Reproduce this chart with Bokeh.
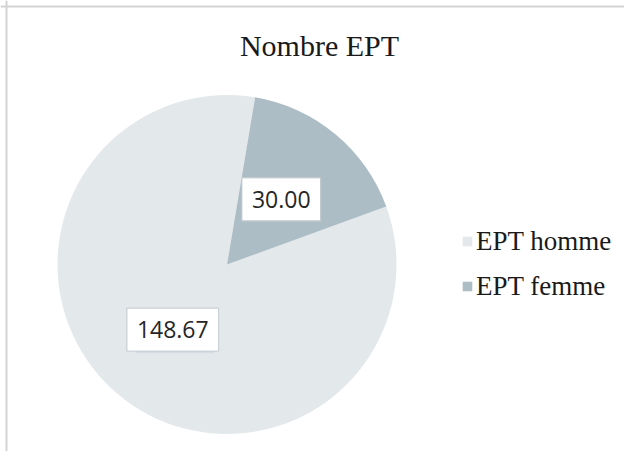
from math import pi
import numpy as np
from bokeh.plotting import figure
from bokeh.models import Range1d, Label, Legend, LegendItem, ColumnDataSource, Span
from bokeh.embed import file_html
from bokeh.resources import INLINE

# ---- data ----
categories = ["EPT homme", "EPT femme"]
values = [148.67, 30.00]
colors = ["#e3e8eb", "#adbdc6"]
title_text = "Nombre EPT"

# ---- layout ----
W, H = 624, 451
cx, cy, R = 226.5, H - 264.0, 169.5
first_slice_deg = 70.0  # clockwise from 12 o'clock

p = figure(width=W, height=H, output_backend="svg", toolbar_location=None,
           x_range=Range1d(0, W), y_range=Range1d(0, H),
           x_axis_location=None, y_axis_location=None, min_border=0, tools="")
p.grid.visible = False
p.outline_line_color = None
p.background_fill_color = "white"
p.border_fill_color = "white"

vals = np.array(values, dtype=float)
frac = vals / vals.sum()
ends = np.cumsum(frac) * 2 * pi
starts = ends - frac * 2 * pi
off = np.deg2rad(first_slice_deg)
start_angle = pi / 2 - off - starts
end_angle = pi / 2 - off - ends

src = ColumnDataSource(dict(cat=categories, val=values, color=colors,
                            start=start_angle, end=end_angle))
r = p.wedge(x=cx, y=cy, radius=R, start_angle="start", end_angle="end",
            direction="clock", fill_color="color", line_color=None, source=src)

# frame lines (left and top)
p.add_layout(Span(location=6, dimension="height", line_color="#d4d4d4", line_width=2))
p.add_layout(Span(location=H - 6, dimension="width", line_color="#d4d4d4", line_width=2))

# title
p.add_layout(Label(x=319, y=H - 45, text=title_text, text_align="center",
                   text_baseline="middle", text_font="Liberation Serif",
                   text_font_size="30px", text_color="#1a1a1a"))

# data labels (at half radius on each slice's mid-angle)
mid = pi / 2 - off - (starts + ends) / 2
lx = cx + 0.5 * R * np.cos(mid)
ly = cy + 0.5 * R * np.sin(mid)
p.rect(x=lx + 2, y=ly - 3, width=78, height=41, width_units="screen",
       height_units="screen", fill_color="#b9c3ca", fill_alpha=0.35, line_color=None)
for v, x, y in zip(values, lx, ly):
    p.add_layout(Label(x=x, y=y, text=f"{v:.2f}", text_align="center",
                       text_baseline="middle",
                       text_font="Open Sans", text_font_size="23px",
                       text_color="#262626",
                       background_fill_color="white",
                       border_line_color="#c2c9ce", border_line_width=1,
                       padding=(10, 13)))

# legend
items = [LegendItem(label=c, renderers=[r], index=i) for i, c in enumerate(categories)]
legend = Legend(items=items, location=(461, H - 303), orientation="vertical",
                label_text_font="Liberation Serif", label_text_font_size="27px",
                label_text_color="#1a1a1a",
                glyph_width=12, glyph_height=12, label_standoff=3,
                label_height=34, spacing=11, padding=0, margin=0,
                border_line_color=None, background_fill_alpha=0)
p.add_layout(legend)

open("out.html", "w").write(file_html(p, INLINE))
